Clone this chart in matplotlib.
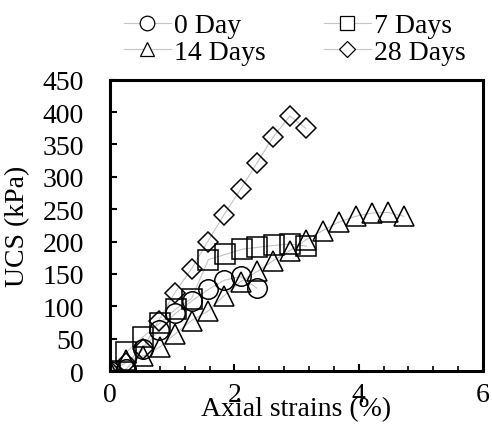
import numpy as np
import matplotlib.pyplot as plt
from matplotlib.lines import Line2D
from matplotlib.ticker import MultipleLocator

plt.rcParams['font.family'] = ['Liberation Serif', 'DejaVu Serif']

# 0 Day
x0 = [0, 0.26, 0.53, 0.79, 1.05, 1.31, 1.58, 1.83, 2.10, 2.36]
y0 = [0, 3, 34, 64, 89, 108, 126, 140, 146, 128]
# 7 Days
x7 = [0, 0.26, 0.52, 0.80, 1.06, 1.31, 1.58, 1.85, 2.12, 2.37, 2.64, 2.89, 3.16]
y7 = [0, 29, 52, 74, 96, 112, 172, 180, 188, 191, 194, 196, 193]
# 14 Days
x14 = [0, 0.26, 0.53, 0.80, 1.04, 1.31, 1.58, 1.83, 2.10, 2.37, 2.62, 2.89,
       3.16, 3.42, 3.68, 3.95, 4.21, 4.47, 4.73]
y14 = [0, 17, 23, 37, 57, 78, 93, 116, 138, 154, 170, 186,
       203, 217, 230, 239, 244, 245, 239]
# 28 Days
x28 = [0, 0.26, 0.52, 0.78, 1.04, 1.31, 1.57, 1.83, 2.10, 2.36, 2.62, 2.89, 3.15]
y28 = [0, 13, 34, 78, 121, 158, 200, 241, 281, 321, 361, 394, 375]

labels = ['0 Day', '7 Days', '14 Days', '28 Days']
series = [(x0, y0, 'o', 14), (x7, y7, 's', 14), (x14, y14, '^', 14), (x28, y28, 'D', 10.5)]

fig = plt.figure(figsize=(4.92, 4.39), dpi=100)
ax = fig.add_axes([0.224, 0.1526, 0.7575, 0.6636])

for (x, y, m, ms) in series:
    ax.plot(x, y, color='#c4c4c4', lw=0.8, zorder=1)
    ax.plot(x, y, ls='none', marker=m, ms=ms, mfc='none', mec='black', mew=1.1, zorder=2)

ax.set_xlim(0, 6)
ax.set_ylim(0, 450)
ax.xaxis.set_major_locator(MultipleLocator(2))
ax.xaxis.set_minor_locator(MultipleLocator(0.4))
ax.yaxis.set_major_locator(MultipleLocator(50))
ax.tick_params(axis='both', which='major', direction='in', length=5, width=1.5, labelsize=20)
ax.tick_params(axis='x', which='major', pad=8)
ax.tick_params(axis='y', which='major', pad=19)
ax.tick_params(axis='x', which='minor', direction='in', length=3.5, width=1.2)
for s in ax.spines.values():
    s.set_linewidth(2.2)
ax.set_xlabel('Axial strains (%)', fontsize=20, labelpad=-8)
ax.set_ylabel('UCS (kPa)', fontsize=20, labelpad=9)

handles = [Line2D([], [], color='#c4c4c4', lw=0.8, marker=m, ms=ms * 0.75,
                  mfc='white', mec='black', mew=0.9)
           for (_, _, m, ms) in series]
# legend fills column-wise: reorder so rows read 0/7 then 14/28
order = [0, 2, 1, 3]
fig.legend([handles[i] for i in order], [labels[i] for i in order], ncol=2,
           loc='upper left', bbox_to_anchor=(0.223, 1.0),
           frameon=False, fontsize=20, borderpad=0, handlelength=1.7,
           handletextpad=0.1, columnspacing=2.1, labelspacing=0.05)

fig.savefig('out.png', dpi=100)
